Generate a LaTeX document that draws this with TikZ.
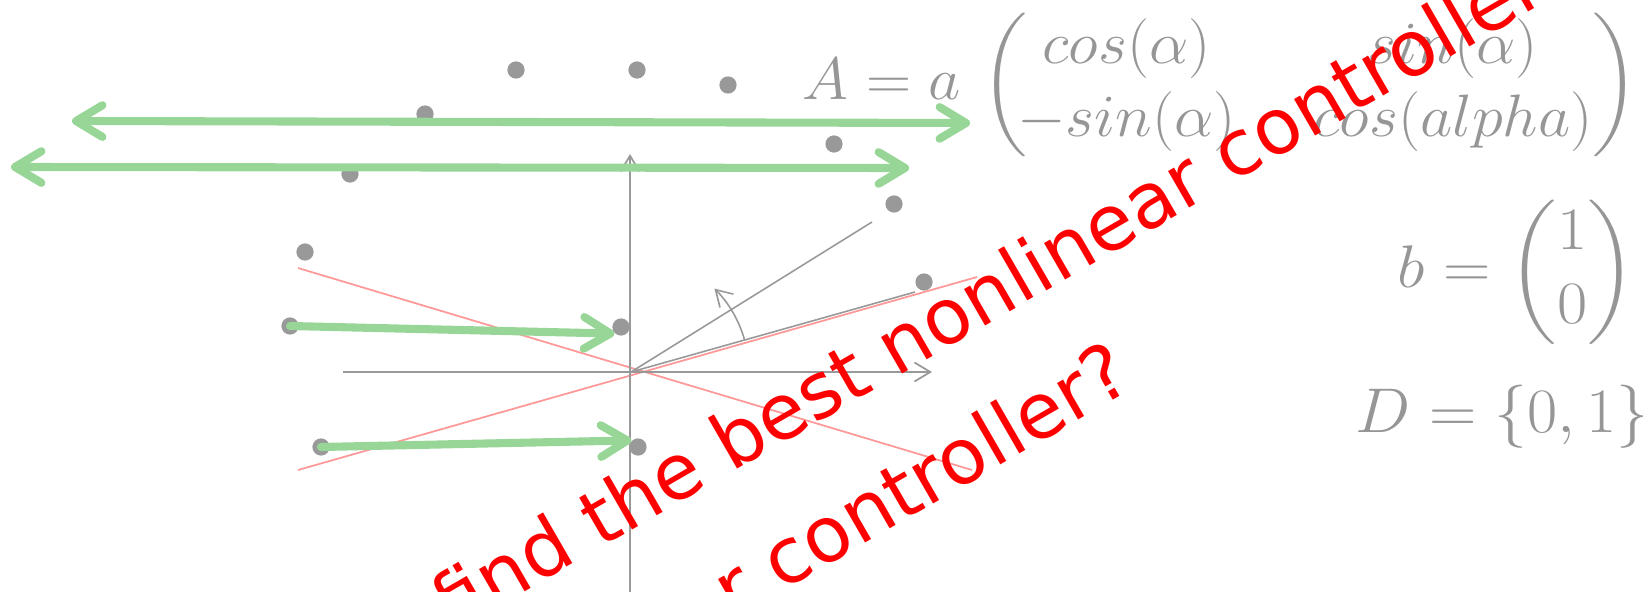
\documentclass[tikz,border=0pt]{standalone}
\usepackage{amsmath}
\usepackage{fontspec}
\usetikzlibrary{positioning, arrows.meta}
\newfontfamily\claimfont{DejaVu Sans}
\definecolor{dotgray}{RGB}{153,153,153}
\definecolor{mathgray}{RGB}{150,150,150}
\definecolor{softgreen}{RGB}{152,214,152}
\definecolor{softred}{RGB}{255,153,153}

\begin{document}
\begin{tikzpicture}[
  x=0.01cm, y=-0.01cm,
  sample/.style={circle, fill=dotgray, inner sep=0pt, minimum size=4.9pt},
  move/.style={line width=2.3pt, softgreen, line cap=round,
               -{Straight Barb[length=7.5pt, width=9pt, round]}},
  twoway/.style={move, {Straight Barb[length=7.5pt, width=9pt, round]}-{Straight Barb[length=7.5pt, width=9pt, round]}},
  axis/.style={dotgray, line width=0.5pt, -{Straight Barb[length=4.5pt, width=5.4pt]}},
  ray/.style={dotgray, line width=0.45pt},
  cut/.style={softred, line width=0.5pt},
  eq/.style={mathgray, inner sep=0pt, font=\fontsize{17.28}{21.2}\selectfont},
  claim/.style={red, inner sep=0pt, rotate=30, font=\claimfont\fontsize{21.9}{26}\selectfont}
]
  \useasboundingbox (0,0) rectangle (1643,591);
  \clip (0,0) rectangle (1643,591);

  \coordinate (o) at (631,372);
  \coordinate (xl) at (343,372);
  \coordinate (xr) at (932,372);
  \coordinate (yb) at (630,620);
  \coordinate (yt) at (630,154);
  \coordinate (r1) at (872,222);
  \coordinate (r2) at (915,292);
  \coordinate (c1a) at (298,268);
  \coordinate (c1b) at (972,470);
  \coordinate (c2a) at (298,470);
  \coordinate (c2b) at (977,277);

  \draw[cut] (c1a) -- (c1b);
  \draw[cut] (c2a) -- (c2b);
  \draw[axis] (xl) -- (xr);
  \draw[axis] (yb) -- (yt);
  \draw[ray] (o) -- (r1);
  \draw[ray] (o) -- (r2);
  \draw[axis, line width=0.45pt] (o) ++(-15.7:118) arc[start angle=-15.7, end angle=-45, radius=118];

  \node[sample] (s1) at (516,70) {};
  \node[sample] (s2) at (637,70) {};
  \node[sample] (s3) at (728,85) {};
  \node[sample] (s4) at (425,114) {};
  \node[sample] (s5) at (834,144) {};
  \node[sample] (s6) at (350,174) {};
  \node[sample] (s7) at (894,204) {};
  \node[sample] (s8) at (305,252) {};
  \node[sample] (s9) at (924,282) {};
  \node[sample] (s10) at (290,326) {};
  \node[sample] (s11) at (621,327) {};
  \node[sample] (s12) at (321,447) {};
  \node[sample] (s13) at (638,447) {};

  \coordinate (m1a) at (72,121);
  \coordinate (m1b) at (970,123);
  \coordinate (m2a) at (11,167);
  \coordinate (m2b) at (909,168);
  \draw[twoway] (m1a) -- (m1b);
  \draw[twoway] (m2a) -- (m2b);
  \draw[move] (s10.center) -- (s11.south west);
  \draw[move] (s12.center) -- (s13.north west);

  \node[eq, anchor=base west, xscale=1.03, yscale=0.985] (amat) at (802,100)
    {\setlength{\arraycolsep}{10.7pt}$A = a\mkern3mu\left(\mkern-3mu\begin{matrix} cos(\alpha) & sin(\alpha)\\ -sin(\alpha) & cos(alpha)\end{matrix}\right)$};
  \node[eq, anchor=base west, xscale=1.08, yscale=0.99] (bvec) at (1397,287) {$b = \begin{pmatrix} 1\\ 0\end{pmatrix}$};
  \node[eq, anchor=base west, xscale=1.08, yscale=1.04] (dset) at (1355,432) {$D = \{0,1\}$};

  \node[claim, anchor=base west] (q1) at (452,634) {find the best nonlinear controller};
  \node[claim, anchor=base east] (q2) at (1136,387) {r controller?};
\end{tikzpicture}
\end{document}
